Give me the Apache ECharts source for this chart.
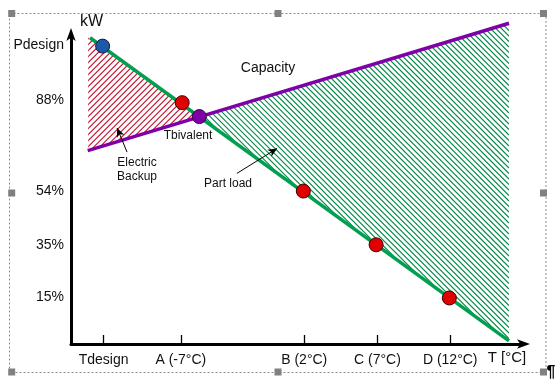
<!DOCTYPE html>
<html>
<head>
<meta charset="utf-8">
<script src="https://cdn.jsdelivr.net/npm/echarts@6/dist/echarts.min.js"></script>
<style>
html,body{margin:0;padding:0;background:#fff;}
#chart{width:558px;height:381px;}
</style>
</head>
<body>
<div id="chart"></div>
<script>
// ---- data (schematic axis units 0..100) ----
const xTickPos = [7.2, 24.3, 51.6, 67.8, 83.9];
const xTickLabels = ['Tdesign', 'A (-7°C)', 'B (2°C)', 'C (7°C)', 'D (12°C)'];
const yLabelPos = [96.8, 79.0, 49.6, 32.0, 15.1];
const yLabelText = ['Pdesign', '88%', '54%', '35%', '15%'];

const partLoadLine = [[4.2, 99.1], [96.9, 1.0]];
const capacityLine = [[3.7, 62.6], [96.9, 103.8]];

const designPoint = [[7.0, 96.4]];
const testPoints = [[24.6, 78.1], [51.4, 49.5], [67.5, 32.1], [83.7, 14.9]];
const bivalentPoint = [[28.4, 73.6]];

const backupRegion = [[3.8, 99.3], [28.4, 73.5], [3.8, 62.6]];
const capacityRegion = [[28.4, 73.5], [96.9, 103.8], [96.9, 1.0]];

const backupArrow = [[12.4, 62.1], [10.2, 69.9]];
const partLoadArrow = [[36.7, 55.2], [45.6, 63.3]];

// hatched region: thin diagonal strips clipped to the region polygon
function regionSeries(name, region, color, dir, step) {
  return {
    type: 'custom', name: name, silent: true, clip: false, z: 1, data: [0],
    renderItem: function (params, api) {
      const pts = region.map(p => api.coord(p));
      const xs = pts.map(p => p[0]), ys = pts.map(p => p[1]);
      const minX = Math.min(...xs), maxX = Math.max(...xs);
      const minY = Math.min(...ys) - 2, maxY = Math.max(...ys) + 2;
      const w = 1.45;
      const strips = [];
      if (dir === '/') {
        const c0 = Math.floor((minX + minY) / step) * step;
        for (let c = c0; c <= maxX + maxY + step; c += step) {
          strips.push({ type: 'polygon', shape: { points: [
            [c - maxY, maxY], [c - maxY + w, maxY], [c - minY + w, minY], [c - minY, minY]] },
            style: { fill: color, stroke: null } });
        }
      } else {
        const c0 = Math.floor((minY - maxX) / step) * step;
        for (let c = c0; c <= maxY - minX + step; c += step) {
          strips.push({ type: 'line', shape: { x1: minX, y1: minX + c, x2: maxX, y2: maxX + c },
            style: { stroke: color, fill: null, lineWidth: 1.15 } });
        }
      }
      return { type: 'group', clipPath: { type: 'polygon', shape: { points: pts } }, children: strips };
    }
  };
}

const font = 'Liberation Sans, Arial, sans-serif';
const chart = echarts.init(document.getElementById('chart'), null, { renderer: 'canvas' });

const handles = [[11.7, 13.5], [278, 13.5], [543.5, 13.5], [11.7, 193], [543.5, 193], [11.7, 372], [278, 372], [543.5, 372]];

chart.setOption({
  animation: false,
  backgroundColor: '#fff',
  grid: { left: 71, right: 35, top: 35, bottom: 37 },
  xAxis: {
    type: 'value', min: 0, max: 100,
    splitLine: { show: false },
    axisLine: { show: true, lineStyle: { color: '#000', width: 3 }, symbol: ['none', 'arrow'], symbolSize: [7, 13], symbolOffset: [0, 7] },
    axisTick: { show: true, inside: true, length: 9, customValues: xTickPos, lineStyle: { color: '#000', width: 1.3 } },
    axisLabel: {
      show: true, customValues: xTickPos, margin: 9,
      fontFamily: font, fontSize: 14, color: '#111',
      formatter: function (v) {
        let best = 0;
        xTickPos.forEach((p, i) => { if (Math.abs(p - v) < Math.abs(xTickPos[best] - v)) best = i; });
        return xTickLabels[best];
      }
    }
  },
  yAxis: {
    type: 'value', min: 0, max: 100,
    splitLine: { show: false },
    axisLine: { show: true, lineStyle: { color: '#000', width: 3 }, symbol: ['none', 'arrow'], symbolSize: [7, 13], symbolOffset: [0, 7] },
    axisTick: { show: false },
    axisLabel: {
      show: true, customValues: yLabelPos, margin: 7,
      fontFamily: font, fontSize: 14, color: '#111',
      formatter: function (v) {
        let best = 0;
        yLabelPos.forEach((p, i) => { if (Math.abs(p - v) < Math.abs(yLabelPos[best] - v)) best = i; });
        return yLabelText[best];
      }
    }
  },
  graphic: [
    { type: 'rect', shape: { x: 9.5, y: 13.5, width: 536.5, height: 359 }, style: { fill: null, stroke: '#8c8c8c', lineWidth: 1, lineDash: [2, 2] }, z: 0 }
  ].concat(handles.map(h => ({
    type: 'rect', shape: { x: h[0] - 3.5, y: h[1] - 3.5, width: 7, height: 7 }, style: { fill: '#808080' }, z: 1
  }))).concat([
    { type: 'text', x: 551, y: 373, style: { text: '¶', font: 'bold 16px ' + font, fill: '#000', align: 'center', verticalAlign: 'middle' } },
    { type: 'text', x: 91.5, y: 22, style: { text: 'kW', font: '16px ' + font, fill: '#111', align: 'center', verticalAlign: 'middle' } },
    { type: 'text', x: 507, y: 358, style: { text: 'T [°C]', font: '15px ' + font, fill: '#111', align: 'center', verticalAlign: 'middle' } },
    { type: 'text', x: 268, y: 68, style: { text: 'Capacity', font: '14px ' + font, fill: '#111', align: 'center', verticalAlign: 'middle' } },
    { type: 'text', x: 188, y: 136, z: 10, style: { text: 'Tbivalent', font: '12px ' + font, fill: '#111', align: 'center', verticalAlign: 'middle' } },
    { type: 'text', x: 137, y: 170, style: { text: 'Electric\nBackup', font: '12px ' + font, lineHeight: 14, fill: '#111', align: 'center', verticalAlign: 'middle' } },
    { type: 'text', x: 228, y: 183.5, style: { text: 'Part load', font: '12px ' + font, fill: '#111', align: 'center', verticalAlign: 'middle' } }
  ]),
  series: [
    regionSeries('capacityHatch', capacityRegion, 'rgb(0,136,70)', '\\', 5.5),
    regionSeries('backupHatch', backupRegion, 'rgb(200,0,30)', '/', 6),
    {
      type: 'line', data: capacityLine, symbol: 'none', clip: false, z: 3,
      lineStyle: { color: '#8000a8', width: 3.5 }, silent: true
    },
    {
      type: 'line', data: partLoadLine, symbol: 'none', clip: false, z: 4,
      lineStyle: { color: '#00a050', width: 3.5 }, silent: true
    },
    {
      type: 'line', data: [], symbol: 'none', z: 5, silent: true,
      markLine: {
        silent: true, animation: false,
        symbol: ['none', 'arrow'], symbolSize: [6, 9],
        label: { show: false },
        lineStyle: { color: '#000', width: 1, type: 'solid' },
        data: [
          [{ coord: backupArrow[0] }, { coord: backupArrow[1] }],
          [{ coord: partLoadArrow[0] }, { coord: partLoadArrow[1] }]
        ]
      }
    },
    {
      type: 'scatter', data: designPoint, symbolSize: 14, z: 6, clip: false,
      itemStyle: { color: '#1a5aa8', borderColor: '#1a1a40', borderWidth: 1, opacity: 1 }
    },
    {
      type: 'scatter', data: testPoints, symbolSize: 14, z: 6, clip: false,
      itemStyle: { color: '#e00000', borderColor: '#400000', borderWidth: 1, opacity: 1 }
    },
    {
      type: 'scatter', data: bivalentPoint, symbolSize: 14, z: 6, clip: false,
      itemStyle: { color: '#8000a8', borderColor: '#300040', borderWidth: 1, opacity: 1 }
    }
  ]
});
</script>
</body>
</html>
